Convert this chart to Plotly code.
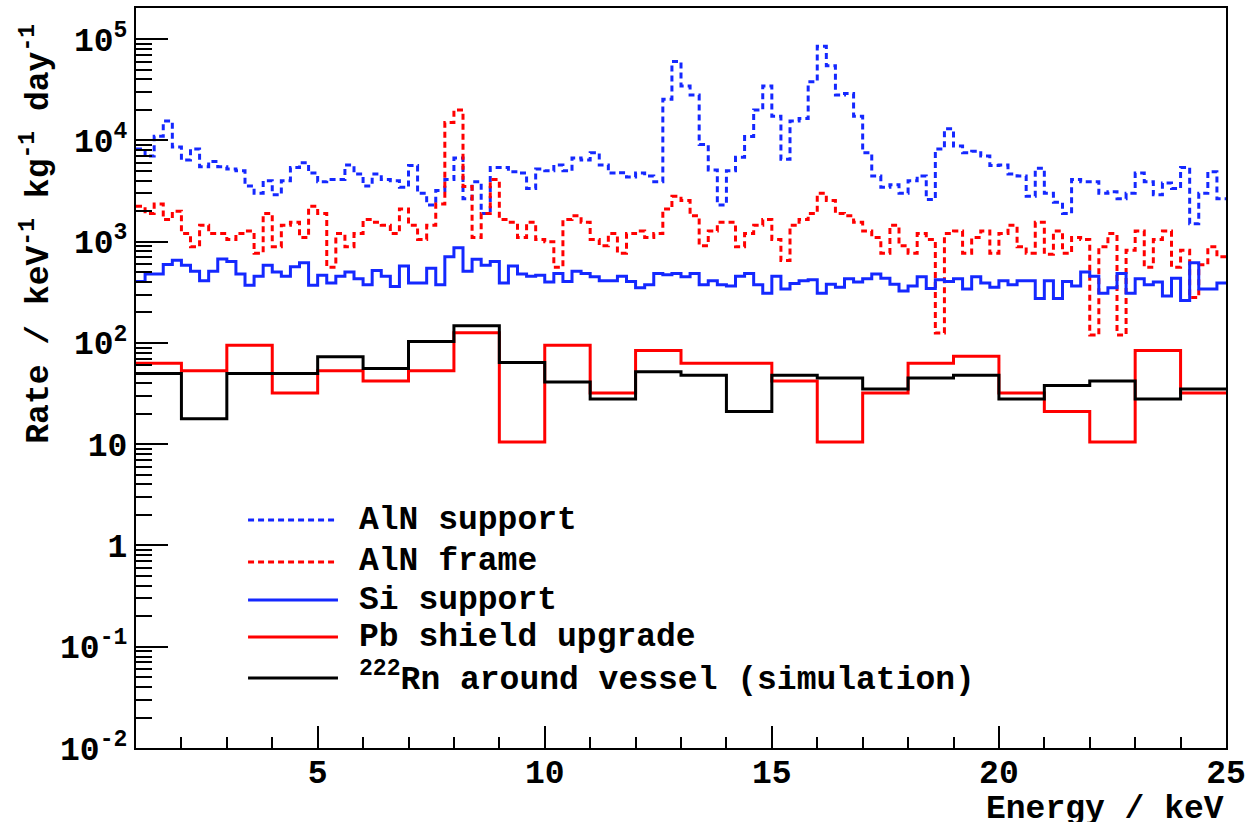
import numpy as np
import plotly.graph_objects as go

# ---- binning -------------------------------------------------------------
fine_edges = np.round(np.arange(1.0, 25.0001, 0.2), 1)   # 0.2 keV bins
coarse_edges = np.arange(1, 26)                           # 1 keV bins

# ---- rates (keV^-1 kg^-1 day^-1) -----------------------------------------
aln_support = [
    8200, 7000, 11000, 15500, 8600, 6400, 8200, 5500, 6200, 5500,
    5200, 5000, 3550, 3000, 4000, 2900, 4000, 5400, 6000, 4750,
    3900, 4100, 4100, 5700, 4650, 3550, 4650, 4100, 4000, 3450,
    5650, 3000, 2300, 3200, 4100, 6700, 2650, 3900, 1900, 5400,
    5400, 4900, 4750, 3350, 5200, 5000, 5700, 5000, 6700, 6400,
    7550, 5700, 4750, 4800, 4350, 4750, 4450, 3900, 25500, 60000,
    34500, 28000, 9100, 5100, 2300, 5000, 6800, 10900, 20000, 34500,
    17300, 6500, 15500, 16400, 38000, 85000, 54500, 28000, 29000, 17300,
    7550, 4450, 3450, 3650, 3000, 4000, 4450, 2600, 8200, 13000,
    8800, 7550, 7800, 7000, 5650, 5700, 4650, 4450, 2800, 5300,
    3000, 2450, 1900, 4100, 3900, 3900, 3000, 3100, 2650, 3000,
    4750, 3900, 2900, 3800, 3350, 5400, 1500, 3000, 4900, 2650,
]

aln_frame = [
    2230, 1900, 2350, 1650, 2000, 1200, 890, 1450, 1200, 1200,
    1050, 1200, 1270, 770, 1900, 890, 1450, 1550, 1100, 2230,
    1900, 560, 1200, 890, 1200, 1650, 1550, 1450, 1200, 2100,
    1450, 1050, 1450, 2350, 15000, 20000, 3500, 1100, 1900, 4100,
    1650, 1550, 1100, 1550, 1050, 1000, 560, 1650, 1800, 1550,
    1050, 910, 1200, 770, 1200, 1270, 1100, 1200, 2100, 2800,
    2550, 1800, 910, 1270, 1550, 1550, 890, 1200, 1450, 1650,
    1050, 650, 1450, 1650, 1900, 3000, 2550, 1900, 1800, 1550,
    1270, 1100, 770, 1450, 910, 770, 1200, 1050, 125, 1200,
    1270, 770, 1100, 1270, 770, 1200, 1450, 890, 770, 1550,
    750, 1270, 770, 1100, 1050, 120, 890, 1200, 120, 820,
    1270, 560, 1050, 1270, 560, 820, 280, 590, 890, 710,
]

si_support = [
    405, 480, 480, 595, 655, 585, 510, 410, 510, 675,
    635, 480, 370, 455, 585, 500, 455, 565, 620, 370,
    465, 390, 455, 500, 430, 375, 520, 455, 360, 575,
    390, 390, 545, 375, 710, 870, 510, 670, 585, 635,
    390, 575, 480, 455, 465, 400, 485, 405, 510, 485,
    450, 410, 410, 455, 405, 350, 375, 485, 470, 485,
    450, 485, 375, 410, 375, 365, 455, 485, 375, 310,
    455, 340, 385, 410, 420, 310, 380, 355, 430, 400,
    430, 480, 435, 380, 325, 365, 450, 345, 420, 405,
    430, 340, 450, 390, 355, 410, 375, 410, 410, 275,
    410, 275, 405, 365, 500, 455, 310, 350, 485, 310,
    430, 375, 400, 290, 435, 262, 620, 340, 340, 390,
]

pb_shield = [
    63, 53, 95, 32, 53, 42, 53, 126, 10.5, 95,
    32, 84, 63, 63, 42, 10.5, 32, 63, 74, 32,
    21, 10.5, 84, 32,
]

rn_vessel = [
    50, 17.8, 50, 50, 73, 56, 103, 148, 64, 41,
    28, 52, 48, 21, 48, 45, 35, 45, 48, 28,
    38, 42, 28, 35,
]

x_ticks = [5, 10, 15, 20, 25]
y_ticks = [1e-2, 1e-1, 1, 10, 1e2, 1e3, 1e4, 1e5]
y_tick_text = ["10<sup>-2</sup>", "10<sup>-1</sup>", "1", "10",
               "10<sup>2</sup>", "10<sup>3</sup>", "10<sup>4</sup>",
               "10<sup>5</sup>"]

BLUE = "rgb(20,40,255)"
RED = "rgb(255,0,0)"
BLACK = "rgb(0,0,0)"
FONT = dict(family="Liberation Mono, Courier New, monospace", size=33,
            color="black", weight="bold")

series = [
    ("AlN support", fine_edges, aln_support, BLUE, "6px,4px"),
    ("AlN frame", fine_edges, aln_frame, RED, "6px,4px"),
    ("Si support", fine_edges, si_support, BLUE, "solid"),
    ("Pb shield upgrade", coarse_edges, pb_shield, RED, "solid"),
    ("<sup>222</sup>Rn around vessel (simulation)", coarse_edges, rn_vessel,
     BLACK, "solid"),
]


def step_xy(edges, vals):
    """Histogram outline: each bin value held from its left to right edge."""
    xs = list(edges[:-1]) + [edges[-1]]
    ys = list(vals) + [vals[-1]]
    return xs, ys


fig = go.Figure()
for name, edges, vals, color, dash in series:
    xs, ys = step_xy(edges, vals)
    fig.add_trace(go.Scatter(
        x=xs, y=ys, mode="lines", name=name, line_shape="hv",
        line=dict(color=color, width=3, dash=dash), showlegend=False,
    ))

# ---- legend drawn inside the frame ---------------------------------------
leg_rows = [0.3081, 0.2514, 0.2, 0.15, 0.0946]
for (name, _, _, color, dash), ly in zip(series, leg_rows):
    fig.add_shape(type="line", xref="paper", yref="paper",
                  x0=0.1028, x1=0.1853, y0=ly, y1=ly,
                  line=dict(color=color, width=3, dash=dash))
    fig.add_annotation(xref="paper", yref="paper", x=0.2028, y=ly,
                       xanchor="left", yanchor="middle", text=name,
                       showarrow=False, font=FONT)

# ---- axis titles ----------------------------------------------------------
fig.add_annotation(xref="paper", yref="paper", x=-0.0908, y=0.695,
                   xanchor="center", yanchor="middle", textangle=-90,
                   text="Rate / keV<sup>-1</sup> kg<sup>-1</sup> day<sup>-1</sup>",
                   showarrow=False, font=FONT)
fig.add_annotation(xref="paper", yref="paper", x=1.0, y=-0.0835,
                   xanchor="right", yanchor="middle", text="Energy / keV",
                   showarrow=False, font=FONT)

x_minor = [v for v in range(2, 25) if v % 5 != 0]
y_minor = [m * 10.0 ** k for k in range(-2, 5) for m in range(2, 10)]

fig.update_xaxes(
    range=[1, 25], showgrid=False, zeroline=False, automargin=False,
    showline=True, linecolor="black", linewidth=2, mirror=True,
    ticks="inside", ticklen=22, tickwidth=2, tickcolor="black",
    tickvals=x_ticks, ticktext=[str(v) for v in x_ticks],
    tickfont=FONT, ticklabelstandoff=-7,
    minor=dict(ticks="inside", ticklen=11, tickwidth=2, tickcolor="black",
               tickvals=x_minor),
)
fig.update_yaxes(
    type="log", range=[-2, 5.307], showgrid=False, zeroline=False,
    automargin=False,
    showline=True, linecolor="black", linewidth=2, mirror=True,
    ticks="inside", ticklen=32, tickwidth=2, tickcolor="black",
    tickvals=y_ticks, ticktext=y_tick_text, tickfont=FONT,
    minor=dict(ticks="inside", ticklen=16, tickwidth=2, tickcolor="black",
               tickvals=y_minor),
)

fig.update_layout(
    width=1247, height=822,
    margin=dict(l=136, r=21, t=8, b=74),
    paper_bgcolor="white", plot_bgcolor="white",
    font=FONT,
)

fig.write_html("out.html")
